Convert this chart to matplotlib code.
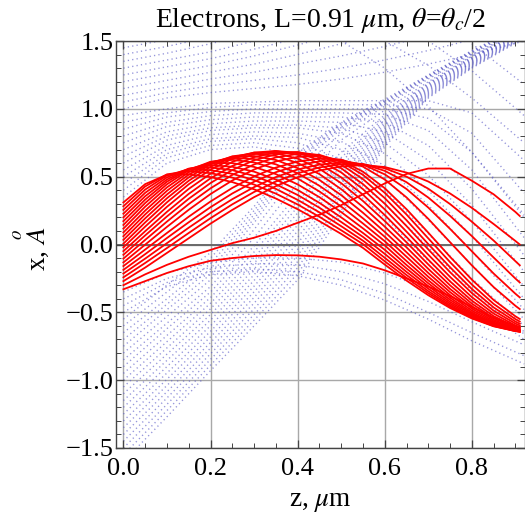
import matplotlib
matplotlib.use('Agg')
import matplotlib.pyplot as plt
from matplotlib.ticker import FuncFormatter

plt.rcParams['font.family'] = ['Liberation Serif', 'DejaVu Serif']
plt.rcParams['mathtext.fontset'] = 'stix'

nan = float('nan')

# sample grid (z, um) for the red trajectories
RED_Z = [0.0, 0.05, 0.10, 0.15, 0.20, 0.25, 0.30, 0.35, 0.40, 0.45,
         0.50, 0.55, 0.60, 0.65, 0.70, 0.75, 0.80, 0.85, 0.90, 0.91]

# x (Angstrom) of the red trajectories
RED_X = [
    [0.310, 0.445, 0.514, 0.517, 0.497, 0.460, 0.407, 0.339, 0.260, 0.172, 0.078, -0.025, -0.148, -0.266, -0.374, -0.468, -0.545, -0.603, -0.638, -0.642],
    [0.282, 0.428, 0.517, 0.540, 0.526, 0.493, 0.442, 0.375, 0.295, 0.204, 0.105, 0.003, -0.124, -0.246, -0.359, -0.458, -0.540, -0.601, -0.638, -0.642],
    [0.255, 0.405, 0.509, 0.554, 0.548, 0.521, 0.475, 0.410, 0.329, 0.237, 0.135, 0.028, -0.098, -0.225, -0.344, -0.448, -0.534, -0.598, -0.637, -0.642],
    [0.227, 0.381, 0.495, 0.559, 0.568, 0.548, 0.506, 0.444, 0.365, 0.271, 0.166, 0.056, -0.069, -0.202, -0.326, -0.436, -0.527, -0.594, -0.636, -0.641],
    [0.200, 0.356, 0.479, 0.558, 0.585, 0.573, 0.537, 0.479, 0.402, 0.307, 0.200, 0.085, -0.039, -0.177, -0.307, -0.423, -0.518, -0.590, -0.635, -0.640],
    [0.172, 0.331, 0.463, 0.555, 0.601, 0.600, 0.572, 0.519, 0.443, 0.349, 0.239, 0.119, -0.007, -0.151, -0.286, -0.408, -0.510, -0.586, -0.634, -0.640],
    [0.144, 0.306, 0.444, 0.548, 0.610, 0.624, 0.605, 0.558, 0.486, 0.391, 0.280, 0.155, 0.024, -0.122, -0.264, -0.392, -0.500, -0.582, -0.632, -0.639],
    [0.117, 0.279, 0.421, 0.533, 0.607, 0.639, 0.630, 0.591, 0.525, 0.433, 0.321, 0.193, 0.057, -0.090, -0.238, -0.373, -0.487, -0.574, -0.629, -0.636],
    [0.089, 0.250, 0.396, 0.515, 0.601, 0.647, 0.652, 0.623, 0.563, 0.476, 0.364, 0.234, 0.093, -0.057, -0.210, -0.351, -0.472, -0.565, -0.625, -0.633],
    [0.061, 0.222, 0.369, 0.495, 0.590, 0.650, 0.670, 0.653, 0.601, 0.519, 0.408, 0.277, 0.132, -0.021, -0.180, -0.328, -0.455, -0.555, -0.621, -0.630],
    [0.034, 0.193, 0.341, 0.470, 0.573, 0.643, 0.677, 0.673, 0.633, 0.558, 0.452, 0.321, 0.173, 0.016, -0.147, -0.301, -0.436, -0.543, -0.615, -0.625],
    [0.006, 0.163, 0.311, 0.444, 0.552, 0.632, 0.678, 0.689, 0.662, 0.595, 0.495, 0.367, 0.217, 0.055, -0.112, -0.272, -0.414, -0.528, -0.607, -0.618],
    [-0.021, 0.132, 0.278, 0.410, 0.522, 0.609, 0.666, 0.689, 0.676, 0.623, 0.531, 0.408, 0.259, 0.095, -0.075, -0.239, -0.388, -0.509, -0.597, -0.609],
    [-0.049, 0.098, 0.241, 0.373, 0.488, 0.579, 0.644, 0.679, 0.681, 0.643, 0.562, 0.445, 0.301, 0.136, -0.036, -0.204, -0.358, -0.488, -0.583, -0.597],
    [-0.076, 0.067, 0.207, 0.337, 0.453, 0.549, 0.621, 0.665, 0.680, 0.657, 0.589, 0.482, 0.342, 0.179, 0.003, -0.168, -0.328, -0.464, -0.568, -0.584],
    [-0.104, 0.034, 0.169, 0.298, 0.414, 0.513, 0.590, 0.642, 0.668, 0.661, 0.609, 0.513, 0.381, 0.221, 0.045, -0.130, -0.295, -0.438, -0.550, -0.568],
    [-0.132, -0.001, 0.130, 0.256, 0.372, 0.472, 0.553, 0.612, 0.646, 0.654, 0.619, 0.537, 0.415, 0.260, 0.087, -0.091, -0.259, -0.409, -0.529, -0.549],
    [-0.159, -0.037, 0.085, 0.205, 0.317, 0.417, 0.502, 0.567, 0.612, 0.633, 0.626, 0.574, 0.479, 0.347, 0.189, 0.017, -0.154, -0.314, -0.452, -0.476],
    [-0.187, -0.071, 0.048, 0.164, 0.275, 0.376, 0.463, 0.533, 0.583, 0.613, 0.619, 0.589, 0.517, 0.409, 0.272, 0.115, -0.050, -0.214, -0.363, -0.390],
    [-0.214, -0.104, 0.010, 0.124, 0.233, 0.334, 0.423, 0.497, 0.553, 0.589, 0.604, 0.593, 0.543, 0.459, 0.346, 0.211, 0.062, -0.096, -0.251, -0.280],
    [-0.242, -0.136, -0.026, 0.085, 0.194, 0.296, 0.387, 0.464, 0.525, 0.568, 0.591, 0.592, 0.562, 0.500, 0.411, 0.298, 0.168, 0.029, -0.123, -0.153],
    [-0.270, -0.170, -0.062, 0.046, 0.154, 0.255, 0.349, 0.430, 0.496, 0.545, 0.575, 0.585, 0.571, 0.530, 0.464, 0.376, 0.270, 0.151, 0.026, 0.000],
    [-0.300, -0.220, -0.150, -0.090, -0.040, 0.010, 0.050, 0.100, 0.160, 0.220, 0.290, 0.370, 0.450, 0.520, 0.560, 0.560, 0.470, 0.370, 0.240, 0.210],
    [-0.330, -0.270, -0.210, -0.160, -0.120, -0.100, -0.085, -0.078, -0.080, -0.090, -0.110, -0.140, -0.190, -0.250, -0.310, -0.380, -0.460, -0.540, -0.600, -0.610],
]

# coarser grid for the faint blue (all electrons) trajectories
BLUE_Z = [0.0, 0.1, 0.2, 0.3, 0.4, 0.5, 0.6, 0.7, 0.8, 0.92]

# electrons entering from the lower channel (dense band, caustic on top)
BLUE_LOW = [
    [-1.600, -1.270, -0.930, -0.600, -0.260, 0.220, 0.720, 1.080, 1.300, 1.520],
    [-1.550, -1.224, -0.889, -0.558, -0.215, 0.252, 0.737, 1.088, 1.306, 1.525],
    [-1.500, -1.178, -0.847, -0.516, -0.171, 0.285, 0.753, 1.096, 1.312, 1.530],
    [-1.450, -1.131, -0.806, -0.474, -0.126, 0.317, 0.770, 1.104, 1.319, 1.534],
    [-1.400, -1.085, -0.764, -0.432, -0.081, 0.350, 0.787, 1.112, 1.325, 1.539],
    [-1.350, -1.039, -0.723, -0.390, -0.036, 0.382, 0.803, 1.120, 1.331, 1.544],
    [-1.300, -0.993, -0.681, -0.349, 0.009, 0.414, 0.820, 1.129, 1.337, 1.549],
    [-1.250, -0.947, -0.640, -0.307, 0.053, 0.447, 0.837, 1.137, 1.343, 1.553],
    [-1.200, -0.900, -0.599, -0.265, 0.098, 0.479, 0.853, 1.145, 1.350, 1.558],
    [-1.150, -0.854, -0.557, -0.223, 0.143, 0.511, 0.870, 1.153, 1.356, 1.563],
    [-1.100, -0.808, -0.516, -0.181, 0.188, 0.544, 0.887, 1.161, 1.362, 1.568],
    [-1.050, -0.762, -0.474, -0.139, 0.232, 0.576, 0.903, 1.169, 1.368, 1.572],
    [-1.000, -0.716, -0.433, -0.097, 0.277, 0.609, 0.920, 1.177, 1.374, 1.577],
    [-0.950, -0.670, -0.391, -0.055, 0.322, 0.641, 0.937, 1.185, 1.380, 1.582],
    [-0.900, -0.620, -0.350, -0.010, 0.370, 0.680, 0.955, 1.190, 1.385, 1.585],
    [-0.850, -0.580, -0.310, 0.050, 0.450, 0.770, 0.990, 1.200, 1.390, 1.590],
    [-0.800, -0.530, -0.260, 0.110, 0.530, 0.820, 1.020, 1.220, 1.400, 1.595],
    [-0.750, -0.480, -0.220, 0.160, 0.590, 0.850, 1.035, 1.230, 1.410, 1.600],
    [-0.700, -0.440, -0.180, 0.190, 0.620, 0.865, 1.045, 1.235, 1.415, 1.605],
    [-0.650, -0.400, -0.140, 0.220, 0.640, 0.880, 1.055, 1.240, 1.420, 1.610],
    [-0.600, -0.350, -0.100, 0.250, 0.660, 0.890, 1.060, 1.245, 1.425, 1.615],
    [-0.550, -0.300, -0.060, 0.280, 0.680, 0.900, 1.070, 1.250, 1.430, 1.620],
]

# slow electrons just below the red bundle
BLUE_MID = [
    [-0.35, -0.21, -0.13, -0.10, -0.10, -0.13, -0.21, -0.33, -0.48, -0.64],
    [-0.40, -0.25, -0.17, -0.14, -0.15, -0.20, -0.29, -0.42, -0.57, -0.74],
    [-0.45, -0.28, -0.20, -0.18, -0.20, -0.26, -0.36, -0.50, -0.65, -0.82],
    [-0.50, -0.31, -0.22, -0.20, -0.23, -0.30, -0.41, -0.55, -0.71, -0.88],
]

# electrons stalling near the barrier and falling back
BLUE_FALL = [
    [0.35, 0.60, 0.70, 0.72, 0.66, 0.48, 0.20, -0.12, -0.42, -0.70],
    [0.40, 0.64, 0.73, 0.75, 0.71, 0.56, 0.30, -0.02, -0.34, -0.66],
    [0.45, 0.67, 0.76, 0.78, 0.75, 0.63, 0.40, 0.08, -0.25, -0.60],
    [0.50, 0.70, 0.78, 0.80, 0.79, 0.70, 0.49, 0.18, -0.15, -0.55],
    [0.55, 0.73, 0.81, 0.83, 0.82, 0.76, 0.58, 0.29, -0.05, -0.48],
    [0.60, 0.77, 0.84, 0.86, 0.86, 0.82, 0.67, 0.40, 0.06, -0.40],
    [0.65, 0.80, 0.86, 0.88, 0.88, 0.86, 0.75, 0.51, 0.17, -0.31],
    [0.70, 0.83, 0.89, 0.91, 0.91, 0.90, 0.83, 0.62, 0.29, -0.20],
    [0.75, 0.87, 0.92, 0.94, 0.94, 0.94, 0.90, 0.73, 0.41, -0.08],
    [0.80, 0.90, 0.95, 0.97, 0.97, 0.97, 0.96, 0.84, 0.55, 0.05],
    [0.85, 0.94, 0.98, 1.00, 1.00, 1.00, 1.00, 0.93, 0.68, 0.20],
    [0.90, 0.97, 1.01, 1.03, 1.03, 1.03, 1.03, 1.00, 0.82, 0.38],
    [0.95, 1.00, 1.04, 1.05, 1.06, 1.06, 1.06, 1.06, 0.97, 0.62],
]

# electrons crossing the barrier upwards
BLUE_RISE = [
    [1.00, 1.08, 1.12, 1.15, 1.18, 1.22, 1.27, 1.33, 1.40, 1.50],
    [1.05, 1.12, 1.17, 1.21, 1.25, 1.30, 1.36, 1.43, 1.51, 1.62],
    [1.10, 1.16, 1.22, 1.27, 1.33, 1.39, 1.46, 1.54, 1.63, 1.75],
    [1.15, 1.21, 1.27, 1.33, 1.40, 1.48, 1.56, 1.65, 1.75, 1.87],
    [1.20, 1.26, 1.32, 1.39, 1.47, 1.56, 1.66, 1.76, 1.87, 2.00],
    [1.25, 1.31, 1.37, 1.44, 1.52, 1.61, 1.71, 1.82, 1.94, 2.08],
    [1.30, 1.36, 1.42, 1.50, 1.58, 1.68, 1.79, 1.91, 2.04, 2.20],
    [1.35, 1.41, 1.48, 1.56, 1.65, 1.75, 1.86, 1.98, 2.10, 2.25],
    [1.40, 1.46, 1.53, 1.61, 1.70, 1.80, 1.91, 2.03, 2.15, 2.30],
    [1.45, 1.51, 1.58, 1.66, 1.75, 1.85, 1.96, 2.08, 2.20, 2.35],
    [1.50, 1.56, 1.63, 1.71, 1.80, 1.90, 2.01, 2.13, 2.25, 2.40],
]

# electrons coming down from above the frame on the right
BLUE_DOWN = [
    [nan, nan, nan, nan, nan, 1.50, 1.30, 1.02, 0.68, 0.22],
    [nan, nan, nan, nan, nan, nan, 1.50, 1.32, 1.08, 0.75],
    [nan, nan, nan, nan, nan, nan, nan, 1.50, 1.28, 0.95],
    [nan, nan, nan, nan, nan, nan, nan, nan, 1.48, 1.18],
]

X_TICKS = [0.0, 0.2, 0.4, 0.6, 0.8]
Y_TICKS = [-1.5, -1.0, -0.5, 0.0, 0.5, 1.0, 1.5]

fig = plt.figure(figsize=(5.25, 5.17), dpi=100)
ax = fig.add_axes([116 / 525, 69 / 517, 409 / 525, 407 / 517])

ax.set_xlim(-0.017, 0.922)
ax.set_ylim(-1.5, 1.5)

for z in X_TICKS:
    ax.axvline(z, color='#a8a8a8', lw=1.0, zorder=0)
for y in Y_TICKS:
    ax.axhline(y, color='#a8a8a8', lw=1.0, zorder=0)
ax.axhline(0.0, color='#6a6a6a', lw=1.4, zorder=0.5)

blue = (0.36, 0.36, 0.78)
for group in (BLUE_LOW, BLUE_MID, BLUE_FALL, BLUE_RISE, BLUE_DOWN):
    for xs in group:
        ax.plot(BLUE_Z, xs, color=blue, alpha=0.65, lw=1.0,
                linestyle=(0, (0.9, 2.3)), zorder=1)

for xs in RED_X:
    ax.plot(RED_Z, xs, color='red', lw=1.3, zorder=2)

fmt = FuncFormatter(lambda v, _: f'{v:.1f}'.replace('-', '\u2212'))
ax.set_xticks(X_TICKS)
ax.set_yticks(Y_TICKS)
ax.set_xticks([i * 0.05 for i in range(19)], minor=True)
ax.set_yticks([-1.5 + i * 0.1 for i in range(31)], minor=True)
ax.xaxis.set_major_formatter(fmt)
ax.yaxis.set_major_formatter(fmt)
ax.tick_params(which='both', direction='in', top=True, right=True,
               labelsize=19, color='#444444')
ax.tick_params(axis='x', pad=7)
ax.tick_params(axis='y', pad=2)
ax.tick_params(which='major', length=6, width=0.9)
ax.tick_params(which='minor', length=3.5, width=0.7)
for s in ax.spines.values():
    s.set_color('#444444')
    s.set_linewidth(1.0)

ax.set_xlabel(r'z, $\mu$m', fontsize=19.5, labelpad=7)
ax.set_ylabel(r'x, $\overset{o}{A}$', fontsize=19.5)
ax.yaxis.set_label_coords(-0.16, 0.49)
ax.set_title(r'Electrons, L=0.91 $\mu$m, $\theta$=$\theta_c$/2', fontsize=20, pad=10)

fig.savefig('out.png', dpi=100)
